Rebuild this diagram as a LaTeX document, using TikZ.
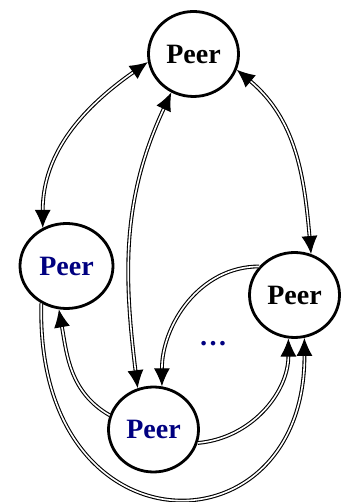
\documentclass[tikz,border=0pt]{standalone}
\usepackage{fontspec}
\setmainfont{Liberation Serif}
\usetikzlibrary{shapes.geometric,arrows.meta}
\definecolor{peernavy}{RGB}{0,0,128}
\begin{document}
\begin{tikzpicture}[
    x=1pt, y=1pt,
    >={Latex[length=18pt,width=16pt]},
    peer/.style={ellipse, draw, line width=2.8pt, fill=white, inner sep=0pt, minimum width=90pt, minimum height=85pt, font=\fontsize{28}{30}\selectfont\bfseries},
    link/.style={double, line width=1.1pt, double distance=1.6pt}
]
\useasboundingbox (0,0) rectangle (343,502);

% Noeuds
\node[peer] (top) at (193.5,448) {Peer};
\node[peer, text=peernavy, minimum width=93pt] (left) at (66.5,236) {Peer};
\node[peer] (right) at (294.5,207) {Peer};
\node[peer, text=peernavy] (bottom) at (153.5,72.5) {Peer};
\node[text=peernavy, font=\fontsize{28}{30}\selectfont\bfseries] (dots) at (213,158) {\dots};

% Liaisons
\draw[link, <->] (top.190) to[out=215, in=90] (left.122);
\draw[link, <->] (top.340) to[out=-40, in=95] (right.68);
\draw[link, <->] (top.240) to[out=245, in=97] (bottom.111);
\draw[link, ->] (right.141) to[out=180, in=90] (bottom.79);
\draw[link, ->] (bottom.162) to[out=150, in=-80] (left.260);
\draw[link, ->] (bottom.343) to[out=5, in=-90] (right.262);
\draw[link, ->] (left.236) .. controls (35,-55) and (305,-55) .. (right.283);

\end{tikzpicture}
\end{document}
